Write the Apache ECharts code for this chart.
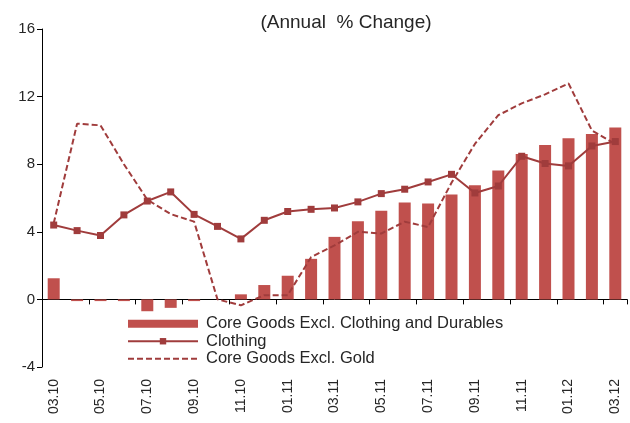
<!DOCTYPE html>
<html>
<head>
<meta charset="utf-8">
<script src="https://cdn.jsdelivr.net/npm/echarts@6/dist/echarts.min.js"></script>
<style>
html,body{margin:0;padding:0;background:#fff;}
#chart{width:630px;height:423px;}
</style>
</head>
<body>
<div id="chart"></div>
<script>
var categories = ['03.10','04.10','05.10','06.10','07.10','08.10','09.10','10.10','11.10','12.10',
  '01.11','02.11','03.11','04.11','05.11','06.11','07.11','08.11','09.11','10.11','11.11','12.11',
  '01.12','02.12','03.12'];
var coreExClothingDurables = [1.25,-0.1,-0.1,-0.1,-0.7,-0.5,-0.1,0,0.3,0.85,
  1.4,2.4,3.7,4.62,5.25,5.73,5.67,6.2,6.75,7.63,8.6,9.14,9.54,9.78,10.17];
var clothing = [4.4,4.07,3.78,5.0,5.82,6.36,5.03,4.32,3.58,4.68,
  5.2,5.33,5.41,5.77,6.26,6.52,6.95,7.4,6.3,6.71,8.47,8.04,7.9,9.08,9.34];
var coreExGold = [4.5,10.4,10.3,8.0,5.9,5.05,4.6,0.0,-0.35,0.25,
  0.25,2.5,3.2,4.0,3.9,4.6,4.28,6.9,9.2,10.9,11.6,12.13,12.78,10.0,9.2];
var yMin = -4, yMax = 16, yStep = 4;
var titleText = '(Annual  % Change)';
var names = ['Core Goods Excl. Clothing and Durables','Clothing','Core Goods Excl. Gold'];

var barColor = '#c0504d';
var lineColor = '#a03c3c';
var font = 'Liberation Sans, Arial, sans-serif';

var chart = echarts.init(document.getElementById('chart'), null, {renderer:'canvas'});
chart.setOption({
  animation:false,
  title:{text:titleText,left:341,top:8,textAlign:'center',
    textStyle:{fontFamily:font,fontSize:19,fontWeight:'normal',color:'#262626'}},
  grid:{left:42,right:3,top:29,bottom:56,containLabel:false},
  legend:{orient:'vertical',left:127,top:315,padding:0,itemWidth:70,itemHeight:8,itemGap:0,
    textStyle:{fontFamily:font,fontSize:16.5,lineHeight:17.5,color:'#262626',padding:[0,0,0,3]},
    data:[{name:names[0],icon:'rect'},names[1],{name:names[2],itemStyle:{opacity:0}}]},
  xAxis:[
    {type:'category',data:categories,boundaryGap:true,position:'bottom',
      axisLine:{onZero:true,lineStyle:{color:'#000',width:1}},
      axisTick:{show:true,interval:1,length:5,lineStyle:{color:'#000'}},
      axisLabel:{show:false},splitLine:{show:false}},
    {type:'category',data:categories,boundaryGap:true,position:'bottom',
      axisLine:{show:false,onZero:false},axisTick:{show:false},
      axisLabel:{show:true,interval:1,rotate:90,margin:12,
        fontFamily:font,fontSize:14,color:'#262626'},splitLine:{show:false}}
  ],
  yAxis:{type:'value',min:yMin,max:yMax,interval:yStep,
    axisLine:{show:true,lineStyle:{color:'#000',width:1}},
    axisTick:{show:true,length:5,lineStyle:{color:'#000'}},
    axisLabel:{fontFamily:font,fontSize:15,color:'#262626',margin:7},
    splitLine:{show:false}},
  series:[
    {name:names[0],type:'bar',xAxisIndex:0,data:coreExClothingDurables,barWidth:12,
      itemStyle:{color:barColor},z:1},
    {name:names[1],type:'line',xAxisIndex:0,data:clothing,symbol:'rect',symbolSize:7,
      showAllSymbol:true,
      lineStyle:{color:lineColor,width:2},itemStyle:{color:lineColor},z:3},
    {name:names[2],type:'line',xAxisIndex:0,data:coreExGold,symbol:'none',
      lineStyle:{color:lineColor,width:2,type:[6,3]},itemStyle:{color:lineColor},z:2}
  ]
});
</script>
</body>
</html>
